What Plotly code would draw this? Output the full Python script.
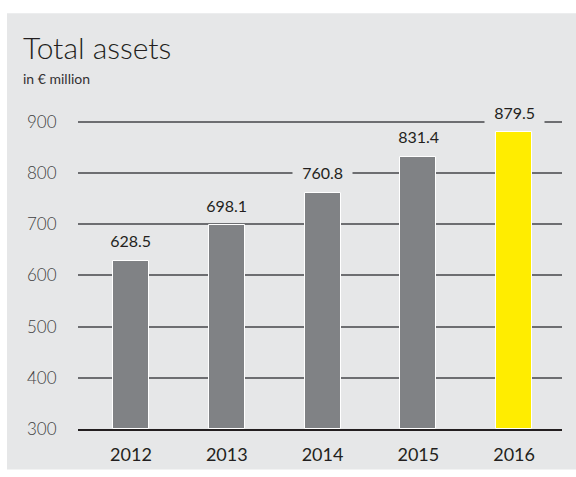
import plotly.graph_objects as go

# Total assets by year, in € million
years = ["2012", "2013", "2014", "2015", "2016"]
assets = [628.5, 698.1, 760.8, 831.4, 879.5]
bar_colors = ["#808285", "#808285", "#808285", "#808285", "#ffed00"]
y_ticks = [300, 400, 500, 600, 700, 800, 900]

PANEL = "#e6e7e8"
DARK = "#231f20"
FONT = "Lato"
NBSP = "\u00a0"

W, H = 576, 477
L, R, T, B = 78, 14, 100, 43
pw, ph = W - L - R, H - T - B


def px_to_paper(x, y):
    return (x - L) / pw, (H - B - y) / ph


fig = go.Figure()
fig.add_trace(go.Bar(
    x=years,
    y=[v - 300 for v in assets],
    base=300,
    width=0.376,
    marker=dict(color=bar_colors, line=dict(color="white", width=1)),
    hoverinfo="skip",
))

# value labels above each bar, with a panel-coloured backing that breaks the gridlines
annotations = []
for i, v in enumerate(assets):
    annotations.append(dict(
        x=i, y=v, xref="x", yref="y",
        text=f"{NBSP * 2}{v:.1f}{NBSP * 2}",
        showarrow=False, yanchor="middle", yshift=20,
        font=dict(family=FONT, size=16, color=DARK),
        bgcolor=PANEL, borderpad=1,
    ))

tx, ty = px_to_paper(21, 46)
annotations.append(dict(
    x=tx, y=ty, xref="paper", yref="paper", text="Total assets",
    showarrow=False, xanchor="left", yanchor="middle",
    font=dict(family=FONT, size=30, color=DARK, weight=300),
))
sx, sy = px_to_paper(21, 78)
annotations.append(dict(
    x=sx, y=sy, xref="paper", yref="paper", text="in € million",
    showarrow=False, xanchor="left", yanchor="middle",
    font=dict(family=FONT, size=14, color="#333133", weight=400),
))

x0, y1 = px_to_paper(7, 12)
x1, y0 = px_to_paper(W + 2, 475)
shapes = [dict(
    type="rect", xref="paper", yref="paper", x0=x0, x1=x1, y0=y0, y1=y1,
    fillcolor=PANEL, line=dict(width=0), layer="below",
)]

fig.update_layout(
    width=W, height=H,
    margin=dict(l=L, r=R, t=T, b=B, pad=0),
    paper_bgcolor="white",
    plot_bgcolor="rgba(0,0,0,0)",
    showlegend=False,
    bargap=0,
    annotations=annotations,
    shapes=shapes,
    xaxis=dict(
        type="category",
        range=[-0.553, 4.5],
        showgrid=False,
        showline=True, linecolor=DARK, linewidth=2,
        ticks="outside", ticklen=8, tickcolor="rgba(0,0,0,0)",
        tickfont=dict(family=FONT, size=18, color=DARK),
        zeroline=False,
        fixedrange=True,
    ),
    yaxis=dict(
        range=[300, 300 + ph / 0.52],
        tickvals=y_ticks,
        showgrid=True, gridcolor="#6d6e71", gridwidth=1.5,
        showline=False, zeroline=False,
        ticks="outside", ticklen=17, tickcolor="rgba(0,0,0,0)",
        tickfont=dict(family=FONT, size=17, color="#3f3f41", weight=300),
        fixedrange=True,
    ),
)

fig.write_html("out.html")
